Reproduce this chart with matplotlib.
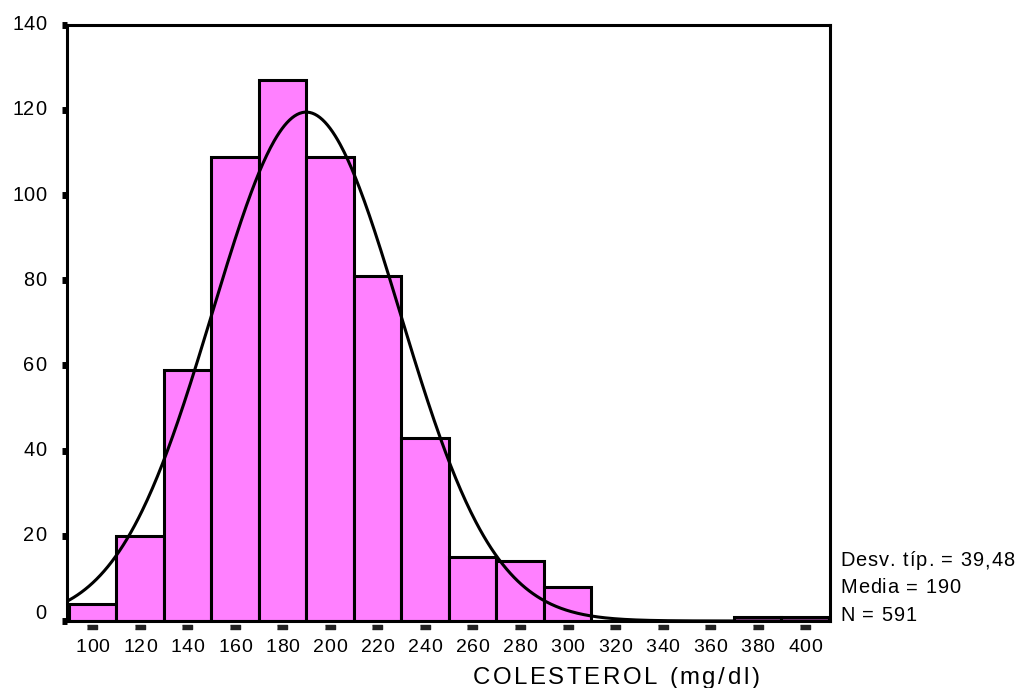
import numpy as np
import matplotlib.pyplot as plt
import matplotlib.transforms as mtransforms
from matplotlib.font_manager import FontProperties, findfont, get_font

plt.rcParams['font.family'] = ['Liberation Sans', 'DejaVu Sans']

# histogram of cholesterol, bins of width 20 centred on the labels
centres = [100, 120, 140, 160, 180, 200, 220, 240, 260, 280, 300, 320, 340, 360, 380, 400]
counts = [4, 20, 59, 109, 127, 109, 81, 43, 15, 14, 8, 0, 0, 0, 1, 1]
binwidth = 20

sd = 39.48
mean = 190
n = 591
stats_lines = ['Desv. típ. = 39,48', 'Media = 190', 'N = 591']
xlabel = 'COLESTEROL (mg/dl)'

yticks = [0, 20, 40, 60, 80, 100, 120, 140]

W, H = 1016, 688
fig = plt.figure(figsize=(W / 100., H / 100.), dpi=100)
ax = fig.add_axes([66.5 / W, 1 - 621 / H, (830 - 66.5) / W, (621 - 24.5) / H])

_font = get_font(findfont(FontProperties(family='Liberation Sans')))


def tracked(x, y, s, px, track, ha='left'):
	"""draw s letter by letter with extra spacing; x, y in pixels
	from the top left corner, y is the middle of the capitals"""
	_font.set_size(px * 72. / 100, 100)
	adv = []
	for c in s:
		g = _font.load_char(ord(c))
		adv.append(g.linearHoriAdvance / 65536.)
	total = sum(adv) + track * (len(s) - 1)
	if ha == 'center':
		x = x - total / 2.
	elif ha == 'right':
		x = x - total
	# baseline sits half a cap height below the middle
	yb = y + 0.358 * px
	for c, a in zip(s, adv):
		fig.text(x / W, 1 - yb / H, c, fontsize=px * 72. / 100,
			ha='left', va='baseline')
		x += a + track


ax.bar(centres, counts, width=binwidth, color='#ff80ff', edgecolor='black',
	linewidth=2.2, zorder=2)

# normal curve scaled to the counts
xs = np.linspace(90, 410, 600)
ys = n * binwidth / (sd * np.sqrt(2 * np.pi)) * np.exp(-0.5 * ((xs - mean) / sd) ** 2)
ax.plot(xs, ys, color='black', lw=2.2, zorder=3)

ax.set_xlim(89.1, 410.5)
ax.set_ylim(0, 140)
ax.set_xticks(centres)
ax.set_yticks(yticks)
ax.set_xticklabels([])
ax.set_yticklabels([])

for s in ax.spines.values():
	s.set_linewidth(2.2)

ax.tick_params(axis='x', length=0)
ax.tick_params(axis='y', direction='out', length=3.6, width=5)

# x ticks are little flat blocks sitting just under the frame
rect = [(-1, -0.55), (1, -0.55), (1, 0.55), (-1, 0.55)]
below = ax.get_xaxis_transform() + mtransforms.ScaledTranslation(
	0, -5.5 / 100., fig.dpi_scale_trans)
ax.plot(centres, [0] * len(centres), ls='none', marker=rect, ms=6.5,
	color='#222222', transform=below, clip_on=False, zorder=4)

# tick labels, placed through the data transform
for c in centres:
	px = ax.transData.transform((c, 0))[0]
	tracked(px, 645, str(c), 19.5, 0.6, ha='center')
for t in yticks:
	py = H - ax.transData.transform((0, t))[1]
	if t == 0:
		py -= 9.5
	else:
		py -= 1.5
	tracked(46, py, str(t), 20, 0.3, ha='right')

tracked(616, 675.5, xlabel, 24, 2.6, ha='center')

for i, line in enumerate(stats_lines):
	tracked(840, 559 + i * 27.3, line, 20, 1.0)

fig.savefig('out.png', dpi=100)
